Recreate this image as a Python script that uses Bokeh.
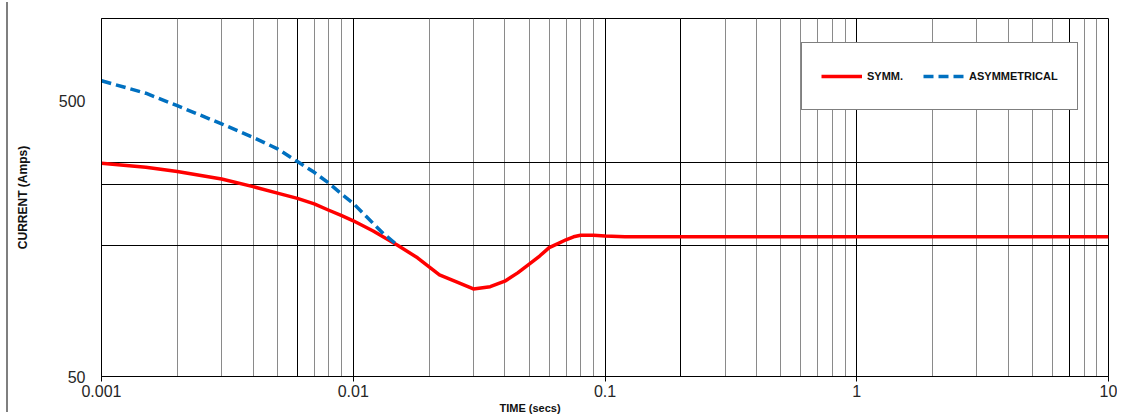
import numpy as np
from bokeh.plotting import figure
from bokeh.layouts import row
from bokeh.models import FixedTicker, Grid, Legend, LegendItem, Range1d, Div, Title
from bokeh.embed import file_html
from bokeh.resources import INLINE

# ---- data ----
symm_time = [0.001, 0.0015, 0.002, 0.003, 0.004, 0.005, 0.006, 0.007, 0.008, 0.009,
             0.01, 0.012, 0.015, 0.018, 0.022, 0.026, 0.03, 0.035, 0.04, 0.045,
             0.05, 0.055, 0.06, 0.065, 0.07, 0.075, 0.08, 0.09, 0.1, 0.12,
             0.2, 0.5, 1, 2, 5, 10]
symm_current = [298, 288, 278, 261, 245, 232, 222, 212, 201, 192,
                184, 169, 150, 135, 117, 110, 104, 106, 111, 119,
                128, 137, 147, 152, 157, 161, 163, 163, 162, 161,
                161, 161, 161, 161, 161, 161]

asym_time = [0.001, 0.0015, 0.002, 0.003, 0.004, 0.005, 0.006, 0.007, 0.008, 0.009,
             0.01, 0.011, 0.012, 0.0132, 0.015]
asym_current = [594, 535, 482, 414, 370, 336, 302, 276, 252, 230,
                213, 195, 180, 165, 150]

series_names = ["SYMM.", "ASYMMETRICAL"]

x_major = [0.001, 0.01, 0.1, 1, 10]
x_major_labels = ["0.001", "0.01", "0.1", "1", "10"]
x_minor = [m * d for d in [0.001, 0.01, 0.1, 1] for m in range(2, 10)]
x_marked = [0.006, 0.2, 7]
y_major = [50, 500]
y_major_labels = ["50", "500"]
y_lines = [150, 250, 300]

FONT = "Liberation Sans"

p = figure(width=1109, height=417, x_axis_type="log", y_axis_type="log",
           x_range=Range1d(0.001, 10), y_range=Range1d(50, 1000),
           output_backend="svg", toolbar_location=None,
           min_border_left=93, min_border_right=9, min_border_top=18,
           min_border_bottom=41)

p.background_fill_color = "white"
p.border_fill_color = "white"
p.outline_line_color = "black"
p.outline_line_width = 1

# grids
p.xgrid.ticker = FixedTicker(ticks=x_minor)
p.xgrid.grid_line_color = "#8a8a8a"
p.xgrid.grid_line_width = 1
p.ygrid.ticker = FixedTicker(ticks=y_lines)
p.ygrid.grid_line_color = "black"
p.ygrid.grid_line_width = 1
p.add_layout(Grid(dimension=0, ticker=FixedTicker(ticks=x_major + x_marked),
                  grid_line_color="black", grid_line_width=1))

# axes
p.xaxis.ticker = FixedTicker(ticks=x_major, minor_ticks=[])
p.xaxis.major_label_overrides = {t: s for t, s in zip(x_major, x_major_labels)}
p.yaxis.ticker = FixedTicker(ticks=y_major, minor_ticks=[])
p.yaxis.major_label_overrides = {t: s for t, s in zip(y_major, y_major_labels)}
for ax in (p.xaxis[0], p.yaxis[0]):
    ax.axis_line_color = "black"
    ax.major_tick_line_color = "black"
    ax.major_tick_in = 0
    ax.minor_tick_in = 0
    ax.minor_tick_out = 0
    ax.major_label_text_font = FONT
    ax.major_label_text_font_size = "16px"
    ax.major_label_text_color = "#262626"
p.xaxis.major_tick_out = 5
p.xaxis.major_label_standoff = 3
p.yaxis.major_tick_out = 0
p.yaxis.major_label_standoff = 16

p.yaxis.axis_label = "CURRENT (Amps)"
p.yaxis.axis_label_text_font = FONT
p.yaxis.axis_label_text_font_style = "bold"
p.yaxis.axis_label_text_font_size = "12px"
p.yaxis.axis_label_text_color = "#111111"
p.yaxis.axis_label_standoff = 26

# x axis title, off-centre as in the reference
p.add_layout(Title(text="TIME (secs)", align="left", offset=398, standoff=0,
                   text_font=FONT, text_font_style="bold",
                   text_font_size="11px", text_color="#111111"), "below")

# series
r1 = p.line(symm_time, symm_current, line_color="#FF0000", line_width=3.5,
            line_join="round")
r2 = p.line(asym_time, asym_current, line_color="#0070C0", line_width=3.5,
            line_dash="10 5")

legend = Legend(items=[LegendItem(label=series_names[0], renderers=[r1]),
                       LegendItem(label=series_names[1], renderers=[r2])],
                orientation="horizontal", location=(700, 266),
                padding=19, spacing=20, margin=0,
                glyph_width=41, glyph_height=28, label_height=28,
                label_standoff=5, label_text_font=FONT,
                label_text_font_style="bold", label_text_font_size="11px",
                label_text_color="#111111",
                border_line_color="black", border_line_width=1,
                background_fill_color="white", background_fill_alpha=1)
p.add_layout(legend)

edge = Div(text="", width=8, height=410, margin=(2, 0, 0, 0),
           styles={"border-right": "2px solid #7f7f7f", "box-sizing": "border-box"})

layout = row(edge, p)
open("out.html", "w").write(file_html(layout, INLINE))
